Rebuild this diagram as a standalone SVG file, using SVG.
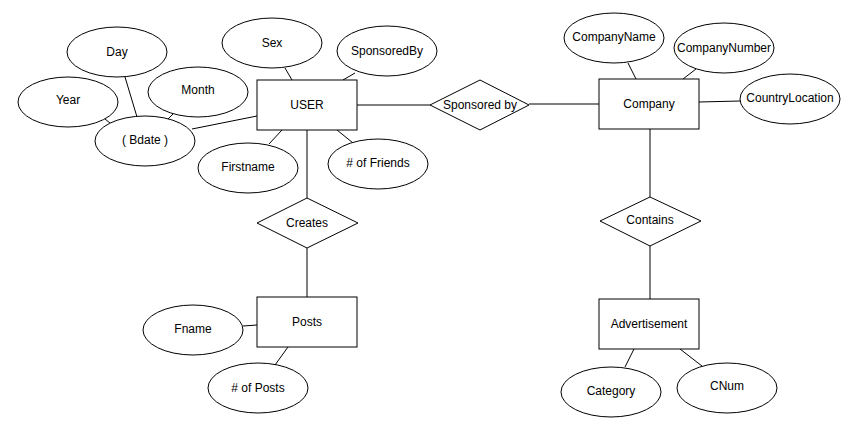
<svg xmlns="http://www.w3.org/2000/svg" width="857" height="426" viewBox="0 0 857 426">
<style>
.s{fill:#fff;stroke:#000;stroke-width:1}
.c line{stroke:#000;stroke-width:1}
text{font-family:"Liberation Sans",Arial,sans-serif;font-size:12px;fill:#000;text-anchor:middle;dominant-baseline:central}
</style>
<rect width="857" height="426" fill="#fff"/>
<g id="connectors" class="c">
<line x1="125" y1="77" x2="137" y2="117"/>
<line x1="105" y1="119" x2="110" y2="123"/>
<line x1="173" y1="114" x2="168" y2="119"/>
<line x1="192" y1="129" x2="257" y2="116"/>
<line x1="285" y1="68" x2="292" y2="80"/>
<line x1="355" y1="73" x2="343" y2="80"/>
<line x1="282" y1="130" x2="269" y2="144"/>
<line x1="337" y1="130" x2="353" y2="143"/>
<line x1="307" y1="130" x2="307" y2="198"/>
<line x1="357" y1="105" x2="430" y2="105"/>
<line x1="529" y1="104" x2="599" y2="104"/>
<line x1="628" y1="63" x2="636" y2="79"/>
<line x1="696" y1="69" x2="683" y2="79"/>
<line x1="699" y1="102" x2="740" y2="101"/>
<line x1="650" y1="129" x2="650" y2="197"/>
<line x1="307" y1="248" x2="307" y2="297"/>
<line x1="243" y1="326" x2="257" y2="325"/>
<line x1="288" y1="347" x2="275" y2="365"/>
<line x1="650" y1="246" x2="650" y2="299"/>
<line x1="634" y1="349" x2="625" y2="367"/>
<line x1="680" y1="349" x2="702" y2="366"/>
</g>
<g id="day"><ellipse class="s" cx="117" cy="52" rx="50" ry="25"/><text x="117" y="52">Day</text></g>
<g id="year"><ellipse class="s" cx="68" cy="102" rx="50" ry="25"/><text x="68" y="100">Year</text></g>
<g id="month"><ellipse class="s" cx="198" cy="92" rx="50" ry="25"/><text x="198" y="90">Month</text></g>
<g id="bdate"><ellipse class="s" cx="145" cy="141" rx="50" ry="25"/><text x="145" y="140">( Bdate )</text></g>
<g id="sex"><ellipse class="s" cx="272" cy="43" rx="50" ry="25"/><text x="272" y="43">Sex</text></g>
<g id="sponsoredBy"><ellipse class="s" cx="387" cy="51" rx="50" ry="25"/><text x="387" y="51">SponsoredBy</text></g>
<g id="user"><rect class="s" x="257" y="80" width="100" height="50"/><text x="307" y="105">USER</text></g>
<g id="firstname"><ellipse class="s" cx="248" cy="168" rx="50" ry="25"/><text x="248" y="167">Firstname</text></g>
<g id="friends"><ellipse class="s" cx="378" cy="164" rx="50" ry="25"/><text x="378" y="163"># of Friends</text></g>
<g id="sponsoredByRel"><polygon class="s" points="430,105 480,80 529,105 480,130"/><text x="480" y="105">Sponsored by</text></g>
<g id="company"><rect class="s" x="599" y="79" width="100" height="50"/><text x="649" y="104">Company</text></g>
<g id="companyName"><ellipse class="s" cx="614" cy="38" rx="50" ry="25"/><text x="614" y="37">CompanyName</text></g>
<g id="companyNumber"><ellipse class="s" cx="724" cy="48" rx="50" ry="25"/><text x="724" y="48">CompanyNumber</text></g>
<g id="countryLocation"><ellipse class="s" cx="790" cy="99" rx="50" ry="25"/><text x="790" y="98">CountryLocation</text></g>
<g id="creates"><polygon class="s" points="257,223 307,198 358,223 307,248"/><text x="307" y="223">Creates</text></g>
<g id="posts"><rect class="s" x="257" y="297" width="100" height="50"/><text x="307" y="322">Posts</text></g>
<g id="fname"><ellipse class="s" cx="193" cy="330" rx="50" ry="25"/><text x="193" y="329">Fname</text></g>
<g id="numPosts"><ellipse class="s" cx="258" cy="388" rx="50" ry="25"/><text x="258" y="388"># of Posts</text></g>
<g id="contains"><polygon class="s" points="600,221 650,197 701,221 650,246"/><text x="650" y="220">Contains</text></g>
<g id="advertisement"><rect class="s" x="599" y="299" width="100" height="50"/><text x="649" y="324">Advertisement</text></g>
<g id="category"><ellipse class="s" cx="611" cy="392" rx="50" ry="25"/><text x="611" y="391">Category</text></g>
<g id="cnum"><ellipse class="s" cx="727" cy="388" rx="50" ry="25"/><text x="727" y="386">CNum</text></g>
</svg>
